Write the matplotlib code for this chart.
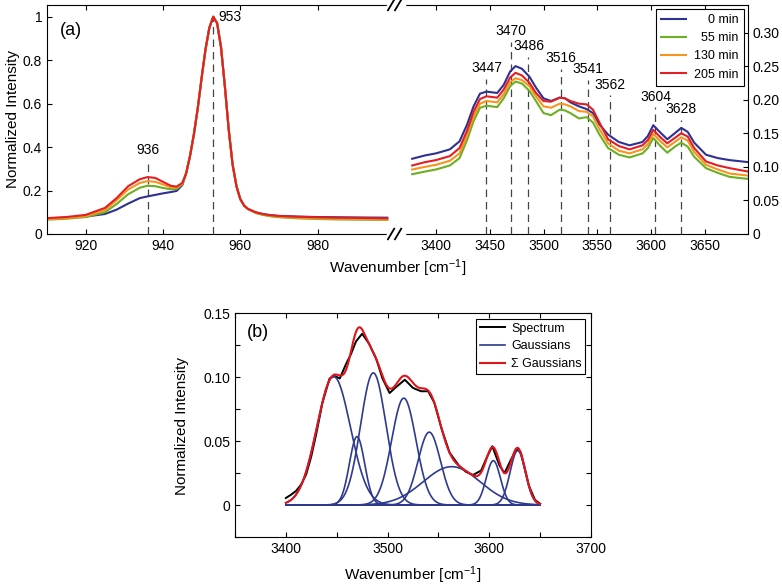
import numpy as np
import matplotlib
matplotlib.use('Agg')
import matplotlib.pyplot as plt
from matplotlib.lines import Line2D

plt.rcParams['font.family'] = ['Liberation Sans', 'DejaVu Sans']
plt.rcParams['mathtext.default'] = 'regular'
plt.rcParams['axes.linewidth'] = 0.8

## ==================================================================================================
# Data
## ==================================================================================================
times = ['0 min', '55 min', '130 min', '205 min']
colors = ['#2E3192', '#6BAF23', '#F7941D', '#E31E24']

# left part of panel (a), around 953 cm-1
wn_low = [910, 915, 920, 925, 928, 931, 934, 936, 938, 940, 942, 943.5, 945, 946, 947, 948, 949, 950,
          951, 952, 953, 954, 955, 956, 957, 958, 959, 960, 961, 962, 964, 966, 968, 970, 975, 980,
          985, 990, 998]
peak_common = [0.28, 0.36, 0.46, 0.58, 0.72, 0.85, 0.95, 1.0, 0.97, 0.86, 0.68, 0.48, 0.32, 0.22,
               0.16, 0.13, 0.115]
low_0 = [0.072, 0.075, 0.080, 0.092, 0.112, 0.140, 0.165, 0.173, 0.180, 0.187, 0.193, 0.198, 0.225] \
        + peak_common + [0.099, 0.091, 0.086, 0.083, 0.080, 0.078, 0.077, 0.076, 0.075]
low_55 = [0.066, 0.070, 0.078, 0.100, 0.138, 0.183, 0.213, 0.222, 0.220, 0.212, 0.206, 0.207, 0.228] \
         + peak_common + [0.096, 0.087, 0.081, 0.077, 0.072, 0.069, 0.067, 0.066, 0.065]
low_130 = [0.068, 0.072, 0.082, 0.110, 0.155, 0.205, 0.235, 0.243, 0.240, 0.228, 0.215, 0.213, 0.232] \
          + peak_common + [0.098, 0.089, 0.083, 0.079, 0.074, 0.071, 0.070, 0.069, 0.068]
low_205 = [0.073, 0.078, 0.088, 0.120, 0.165, 0.220, 0.252, 0.262, 0.258, 0.240, 0.222, 0.218, 0.235] \
          + peak_common + [0.100, 0.091, 0.086, 0.083, 0.079, 0.077, 0.075, 0.074, 0.072]

# right part of panel (a), OH stretching region
wn_high = [3378, 3390, 3400, 3413, 3422, 3429, 3435, 3441, 3447, 3452, 3457, 3463, 3469, 3474, 3480,
           3487, 3493, 3500, 3507, 3515, 3520, 3525, 3533, 3540, 3546, 3552, 3560, 3570, 3580, 3592,
           3597, 3602, 3608, 3615, 3622, 3628, 3634, 3640, 3651, 3662, 3673, 3690]
high_0 = [0.112, 0.117, 0.120, 0.126, 0.138, 0.163, 0.190, 0.209, 0.212, 0.211, 0.210, 0.222, 0.242,
          0.250, 0.246, 0.234, 0.218, 0.202, 0.198, 0.203, 0.202, 0.196, 0.190, 0.186, 0.180, 0.163,
          0.148, 0.137, 0.132, 0.137, 0.146, 0.162, 0.152, 0.141, 0.150, 0.158, 0.152, 0.136, 0.118,
          0.113, 0.110, 0.107]
high_55 = [0.089, 0.093, 0.096, 0.102, 0.113, 0.140, 0.168, 0.188, 0.191, 0.190, 0.189, 0.202, 0.220,
           0.227, 0.224, 0.213, 0.198, 0.180, 0.177, 0.185, 0.184, 0.180, 0.172, 0.174, 0.166, 0.148,
           0.128, 0.118, 0.114, 0.120, 0.128, 0.143, 0.132, 0.121, 0.130, 0.136, 0.130, 0.115, 0.098,
           0.091, 0.085, 0.082]
high_130 = [0.096, 0.100, 0.103, 0.109, 0.120, 0.147, 0.175, 0.194, 0.198, 0.197, 0.196, 0.208, 0.226,
            0.232, 0.229, 0.220, 0.205, 0.190, 0.188, 0.194, 0.193, 0.190, 0.183, 0.182, 0.175, 0.156,
            0.135, 0.124, 0.120, 0.126, 0.134, 0.149, 0.139, 0.129, 0.137, 0.144, 0.139, 0.122, 0.103,
            0.096, 0.090, 0.087]
high_205 = [0.102, 0.107, 0.110, 0.116, 0.128, 0.154, 0.182, 0.201, 0.205, 0.204, 0.203, 0.215, 0.233,
            0.240, 0.236, 0.225, 0.210, 0.198, 0.197, 0.203, 0.202, 0.198, 0.194, 0.193, 0.185, 0.166,
            0.141, 0.131, 0.126, 0.132, 0.140, 0.155, 0.145, 0.135, 0.143, 0.150, 0.145, 0.128, 0.108,
            0.102, 0.098, 0.093]

# peak markers (position, top of the dashed line)
low_peaks = [936, 953]
low_peak_tops = [0.335, 1.0]
high_peaks = [3447, 3470, 3486, 3516, 3541, 3562, 3604, 3628]
high_peak_tops = [0.231, 0.286, 0.264, 0.246, 0.230, 0.207, 0.189, 0.170]

# panel (b): measured spectrum and gaussian fit components
spec_wn = [3400, 3405, 3410, 3415, 3420, 3425, 3430, 3436, 3443, 3448, 3453, 3459, 3464, 3469, 3475,
           3482, 3489, 3495, 3502, 3508, 3517, 3525, 3533, 3540, 3546, 3553, 3561, 3570, 3577, 3584,
           3592, 3598, 3603, 3610, 3615, 3621, 3627, 3631, 3639, 3645, 3650]
spec_int = [0.0055, 0.008, 0.011, 0.016, 0.024, 0.038, 0.056, 0.080, 0.099, 0.101, 0.099, 0.110,
            0.118, 0.128, 0.134, 0.126, 0.114, 0.099, 0.0876, 0.092, 0.098, 0.0916, 0.089, 0.089,
            0.080, 0.060, 0.041, 0.031, 0.026, 0.0235, 0.027, 0.038, 0.046, 0.031, 0.025, 0.035,
            0.044, 0.041, 0.015, 0.004, 0.001]
g_center = [3447, 3470, 3486, 3516, 3541, 3563, 3604, 3628]
g_height = [0.1005, 0.0535, 0.1034, 0.0836, 0.057, 0.030, 0.0347, 0.0426]
g_sigma = [16.5, 7.5, 12.5, 12.0, 11.0, 28.0, 7.0, 7.5]

## ==================================================================================================
# Panel (a): broken wavenumber axis
## ==================================================================================================
fig = plt.figure(figsize=(7.82, 5.87), dpi=100)
ax1 = fig.add_axes([0.0601, 0.6014, 0.4450, 0.3901])
ax2 = fig.add_axes([0.5051, 0.6014, 0.4514, 0.3901])

lows = [low_0, low_55, low_130, low_205]
highs = [high_0, high_55, high_130, high_205]
for i in range(len(times)):
    ax1.plot(wn_low, lows[i], color=colors[i], linewidth=1.5)
    ax2.plot(wn_high, highs[i], color=colors[i], linewidth=1.5, label=times[i])

ax1.set_xlim(910, 1000)
ax1.set_ylim(0, 1.054)
ax2.set_xlim(3362, 3690)
ax2.set_ylim(0, 0.341)

ax1.spines['right'].set_visible(False)
ax2.spines['left'].set_visible(False)
ax1.set_xticks([920, 940, 960, 980])
ax1.set_yticks([0, 0.2, 0.4, 0.6, 0.8, 1.0])
ax1.set_yticklabels(['0', '0.2', '0.4', '0.6', '0.8', '1'])
ax1.tick_params(direction='in', top=True, right=False, labelsize=10, length=3.5, width=0.8)
ax2.set_xticks([3400, 3450, 3500, 3550, 3600, 3650])
ax2.set_yticks([0, 0.05, 0.10, 0.15, 0.20, 0.25, 0.30])
ax2.set_yticklabels(['0', '0.05', '0.10', '0.15', '0.20', '0.25', '0.30'])
ax2.yaxis.tick_right()
ax2.tick_params(direction='in', top=True, left=False, right=True, labelsize=10, length=3.5, width=0.8)

## dashed peak markers with labels
for pk, top in zip(low_peaks, low_peak_tops):
    ax1.plot([pk, pk], [0, top], color='#444444', linestyle=(0, (6, 4)), linewidth=0.9, zorder=1)
ax1.annotate('936', (low_peaks[0], low_peak_tops[0]), xytext=(0, 3), textcoords='offset points',
             ha='center', va='bottom', fontsize=10)
ax1.annotate('953', (low_peaks[1], low_peak_tops[1]), xytext=(4, 0), textcoords='offset points',
             ha='left', va='center', fontsize=10)
for pk, top in zip(high_peaks, high_peak_tops):
    ax2.plot([pk, pk], [0, top], color='#444444', linestyle=(0, (6, 4)), linewidth=0.9, zorder=1)
    ax2.annotate(str(pk), (pk, top), xytext=(0, 2.5), textcoords='offset points',
                 ha='center', va='bottom', fontsize=10)

ax1.text(0.037, 0.89, '(a)', transform=ax1.transAxes, ha='left', va='center', fontsize=13)
ax1.text(-0.098, 0.5, 'Normalized Intensity', transform=ax1.transAxes, rotation=90,
         ha='center', va='center', fontsize=11)
fig.text(0.508, 0.5355, r'Wavenumber [cm$^{-1}$]', ha='center', va='baseline', fontsize=11)

leg = ax2.legend(loc='upper right', fontsize=9, frameon=True, fancybox=False, framealpha=1,
                 edgecolor='black', borderaxespad=0.32, handlelength=2.0, handletextpad=0.7,
                 labelspacing=0.5, borderpad=0.4)
leg.get_frame().set_linewidth(0.8)
# right-align the legend texts with figure spaces (digits have equal width)
width = max(len(t) for t in times)
for txt, t in zip(leg.get_texts(), times):
    txt.set_text('\u2007' * (width - len(t)) + t)

## break marks on the broken axis
bx = 0.5051
for yb in [0.6014, 0.9915]:
    fig.add_artist(Line2D([bx - 0.009, bx + 0.011], [yb, yb], transform=fig.transFigure,
                          color='white', linewidth=2.5))
    for dx in [-0.005, 0.004]:
        fig.add_artist(Line2D([bx + dx - 0.004, bx + dx + 0.004], [yb - 0.009, yb + 0.009],
                              transform=fig.transFigure, color='black', linewidth=1.3))

## ==================================================================================================
# Panel (b): gaussian decomposition
## ==================================================================================================
ax3 = fig.add_axes([0.3005, 0.0852, 0.4552, 0.3811])
xg = np.linspace(3400, 3650, 501)
gauss = [h * np.exp(-(xg - c) ** 2 / (2.0 * s ** 2)) for c, h, s in zip(g_center, g_height, g_sigma)]

ax3.plot(spec_wn, spec_int, color='black', linewidth=1.4, label='Spectrum')
for i, g in enumerate(gauss):
    ax3.plot(xg, g, color='#2E3A8F', linewidth=1.2, label='Gaussians' if i == 0 else None)
ax3.plot(xg, np.sum(gauss, axis=0), color='#E0141B', linewidth=1.5, label=u'\u03a3 Gaussians')

ax3.set_xlim(3350, 3700)
ax3.set_ylim(-0.025, 0.15)
ax3.set_xticks(np.arange(3350, 3701, 50))
ax3.set_xticklabels(['', '3400', '', '3500', '', '3600', '', '3700'])
ax3.set_yticks([-0.025, 0, 0.025, 0.05, 0.075, 0.10, 0.125, 0.15])
ax3.set_yticklabels(['', '0', '', '0.05', '', '0.10', '', '0.15'])
ax3.tick_params(direction='in', top=True, right=True, labelsize=10, length=3.5, width=0.8)

ax3.text(0.034, 0.912, '(b)', transform=ax3.transAxes, ha='left', va='center', fontsize=13)
ax3.text(-0.150, 0.496, 'Normalized Intensity', transform=ax3.transAxes, rotation=90,
         ha='center', va='center', fontsize=11)
ax3.text(0.5, -0.192, r'Wavenumber [cm$^{-1}$]', transform=ax3.transAxes, ha='center',
         va='baseline', fontsize=11)

leg2 = ax3.legend(loc='upper right', fontsize=9, frameon=True, fancybox=False, framealpha=1,
                  edgecolor='black', borderaxespad=0.45, handlelength=2.0, handletextpad=0.5,
                  labelspacing=0.45, borderpad=0.3)
leg2.get_frame().set_linewidth(0.8)

fig.savefig('out.png', dpi=100)
